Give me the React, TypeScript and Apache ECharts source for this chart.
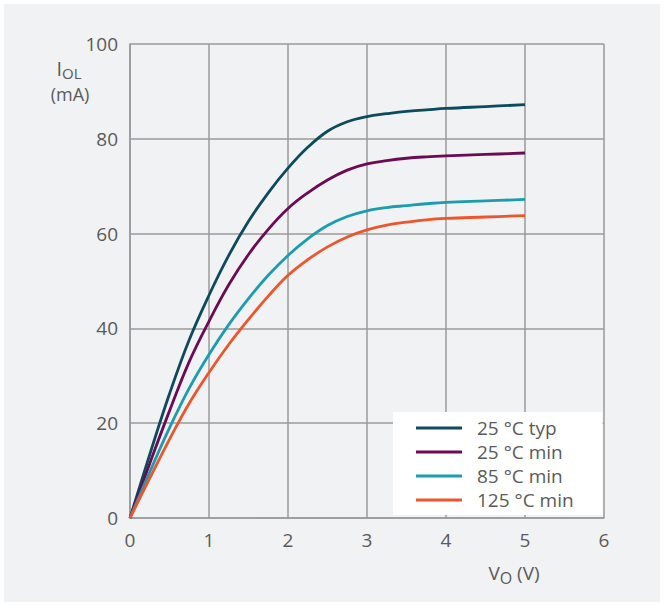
import React, { useEffect, useRef } from "react";
import * as echarts from "echarts";

const seriesNames = ["25 °C typ", "25 °C min", "85 °C min", "125 °C min"];
const seriesColors = ["#0c4a5c", "#6c0a52", "#1b9caf", "#ee552b"];

const voltages = [0, 0.25, 0.5, 0.75, 1, 1.25, 1.5, 1.75, 2, 2.25, 2.5, 2.75, 3, 3.25, 3.5, 3.75, 4, 4.5, 5];
const typ25 = [0, 13.4, 26.2, 37.6, 47, 55.4, 62.6, 68.6, 73.8, 78.2, 81.6, 83.6, 84.7, 85.3, 85.8, 86.1, 86.4, 86.8, 87.2];
const min25 = [0, 11.5, 22.6, 33, 41.5, 49.2, 55.6, 60.9, 65.3, 68.6, 71.3, 73.4, 74.7, 75.4, 75.9, 76.2, 76.4, 76.7, 77];
const min85 = [0, 9.7, 19, 27.4, 34.5, 40.8, 46.3, 51.2, 55.4, 58.9, 61.7, 63.6, 64.8, 65.5, 65.9, 66.3, 66.6, 66.9, 67.2];
const min125 = [0, 8.4, 16.6, 24.2, 30.7, 36.6, 41.9, 46.8, 51.2, 54.5, 57.2, 59.3, 60.8, 61.8, 62.4, 62.9, 63.2, 63.5, 63.8];
const seriesValues = [typ25, min25, min85, min125];

const xTicks = { min: 0, max: 6, interval: 1 };
const yTicks = { min: 0, max: 100, interval: 20 };

const FONT = "'Open Sans', 'Noto Sans', sans-serif";
const TXT = "#5a5a5a";
const GRID = "#9a9a9a";

export default function App() {
  const ref = useRef<HTMLDivElement>(null);
  useEffect(() => {
    document.body.style.margin = "0";
    const chart = echarts.init(ref.current!, undefined, { renderer: "svg" });
    chart.setOption({
      animation: false,
      backgroundColor: "#ffffff",
      textStyle: { fontFamily: FONT },
      graphic: [
        {
          type: "rect",
          z: -10,
          silent: true,
          shape: { x: 4, y: 4, width: 656, height: 598 },
          style: { fill: "#f1f2f4" },
        },
        {
          type: "text",
          x: 62,
          y: 68,
          style: { text: "I", fontSize: 20, fill: TXT, fontFamily: FONT, align: "right", verticalAlign: "middle" },
        },
        {
          type: "text",
          x: 62,
          y: 73,
          style: { text: "OL", fontSize: 15, fill: TXT, fontFamily: FONT, align: "left", verticalAlign: "middle" },
        },
        {
          type: "text",
          x: 70,
          y: 94,
          style: { text: "(mA)", fontSize: 18, fill: TXT, fontFamily: FONT, align: "center", verticalAlign: "middle" },
        },
        {
          type: "text",
          x: 514,
          y: 573,
          style: {
            text: "{v|V}{s|O}{v| (V)}",
            rich: {
              v: { fontSize: 19, fill: TXT, fontFamily: FONT },
              s: { fontSize: 16, fill: TXT, fontFamily: FONT, padding: [9, 0, 0, 0] },
            },
            align: "center",
            verticalAlign: "middle",
          },
        },
      ],
      grid: { left: 130, right: 61, top: 44, bottom: 87, containLabel: false },
      xAxis: {
        type: "value",
        min: xTicks.min,
        max: xTicks.max,
        interval: xTicks.interval,
        axisLine: { show: true, lineStyle: { color: GRID, width: 1.5 } },
        axisTick: { show: false },
        splitLine: { show: true, lineStyle: { color: GRID, width: 1.5 } },
        axisLabel: { color: TXT, fontSize: 19, margin: 12, fontFamily: FONT },
      },
      yAxis: {
        type: "value",
        min: yTicks.min,
        max: yTicks.max,
        interval: yTicks.interval,
        axisLine: { show: true, lineStyle: { color: GRID, width: 1.5 } },
        axisTick: { show: false },
        splitLine: { show: true, lineStyle: { color: GRID, width: 1.5 } },
        axisLabel: { color: TXT, fontSize: 19, margin: 12, fontFamily: FONT },
      },
      legend: {
        orient: "vertical",
        left: 393,
        top: 412,
        backgroundColor: "#ffffff",
        padding: [6, 29, 5, 23],
        itemWidth: 46,
        itemHeight: 3,
        itemGap: 4,
        icon: "rect",
        data: seriesNames,
        textStyle: { color: TXT, fontSize: 19, lineHeight: 20, fontFamily: FONT, padding: [0, 0, 0, 10] },
      },
      series: seriesNames.map((name, i) => ({
        name,
        type: "line",
        data: voltages.map((v, j) => [v, seriesValues[i][j]]),
        smooth: 0.4,
        showSymbol: false,
        symbol: "none",
        lineStyle: { color: seriesColors[i], width: 2.8 },
        itemStyle: { color: seriesColors[i] },
      })),
    });
    return () => chart.dispose();
  }, []);
  return <div ref={ref} style={{ width: 665, height: 605 }} />;
}
